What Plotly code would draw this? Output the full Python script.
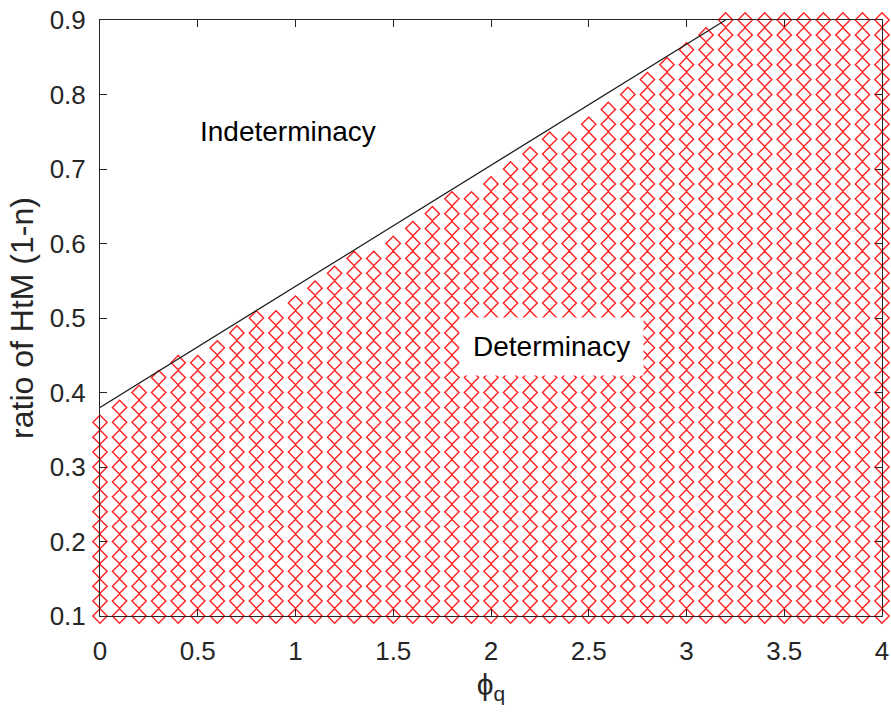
import plotly.graph_objects as go

# Column positions (phi_q) and the highest determinate grid value in each column
phi_q = [0.0, 0.1, 0.2, 0.3, 0.4, 0.5, 0.6, 0.7, 0.8, 0.9,
         1.0, 1.1, 1.2, 1.3, 1.4, 1.5, 1.6, 1.7, 1.8, 1.9,
         2.0, 2.1, 2.2, 2.3, 2.4, 2.5, 2.6, 2.7, 2.8, 2.9,
         3.0, 3.1, 3.2, 3.3, 3.4, 3.5, 3.6, 3.7, 3.8, 3.9, 4.0]
col_top = [0.36, 0.38, 0.40, 0.42, 0.44, 0.44, 0.46, 0.48, 0.50, 0.50,
           0.52, 0.54, 0.56, 0.58, 0.58, 0.60, 0.62, 0.64, 0.66, 0.66,
           0.68, 0.70, 0.72, 0.74, 0.74, 0.76, 0.78, 0.80, 0.82, 0.84,
           0.86, 0.88, 0.90, 0.90, 0.90, 0.90, 0.90, 0.90, 0.90, 0.90, 0.90]
# grid of HtM ratios tested
htm_levels = [0.10, 0.12, 0.14, 0.16, 0.18, 0.20, 0.22, 0.24, 0.26, 0.28,
              0.30, 0.32, 0.34, 0.36, 0.38, 0.40, 0.42, 0.44, 0.46, 0.48,
              0.50, 0.52, 0.54, 0.56, 0.58, 0.60, 0.62, 0.64, 0.66, 0.68,
              0.70, 0.72, 0.74, 0.76, 0.78, 0.80, 0.82, 0.84, 0.86, 0.88, 0.90]
# boundary line endpoints
bound_x = [0.0, 3.2]
bound_y = [0.38, 0.90]

x_ticks = [0, 0.5, 1, 1.5, 2, 2.5, 3, 3.5, 4]
x_tick_text = ["0", "0.5", "1", "1.5", "2", "2.5", "3", "3.5", "4"]
y_ticks = [0.1, 0.2, 0.3, 0.4, 0.5, 0.6, 0.7, 0.8, 0.9]
y_tick_text = ["0.1", "0.2", "0.3", "0.4", "0.5", "0.6", "0.7", "0.8", "0.9"]

px, py = [], []
for xv, top in zip(phi_q, col_top):
    for yv in htm_levels:
        if yv <= top + 1e-9:
            px.append(xv)
            py.append(yv)

FONT = "Liberation Sans, Arial, Helvetica, sans-serif"
AX = "#262626"

fig = go.Figure()
fig.add_trace(go.Scatter(
    x=px, y=py, mode="markers", cliponaxis=False,
    marker=dict(symbol="diamond-open", size=11, color="#ff2020",
                line=dict(width=1.4, color="#ff2020")),
    showlegend=False, hoverinfo="skip"))
fig.add_trace(go.Scatter(
    x=bound_x, y=bound_y, mode="lines",
    line=dict(color="#1a1a1a", width=1.2), showlegend=False))

axis_common = dict(showgrid=False, zeroline=False, showline=True,
                   linecolor=AX, linewidth=1, mirror="ticks",
                   ticks="inside", ticklen=7, tickwidth=1, tickcolor=AX,
                   automargin=False,
                   tickfont=dict(family=FONT, size=26, color=AX))

fig.update_layout(
    width=891, height=720,
    margin=dict(l=100, r=9, t=20, b=104),
    paper_bgcolor="white", plot_bgcolor="white",
    xaxis=dict(range=[0, 4], tickvals=x_ticks, ticktext=x_tick_text,
               title=dict(text="ϕ<sub>q</sub>", font=dict(family=FONT, size=30, color=AX),
                          standoff=8),
               ticklabelstandoff=12, **axis_common),
    yaxis=dict(range=[0.1, 0.9], tickvals=y_ticks, ticktext=y_tick_text,
               title=dict(text="ratio of HtM (1-n)", font=dict(family=FONT, size=32, color=AX),
                          standoff=6),
               ticklabelstandoff=8, **axis_common),
    annotations=[
        dict(x=0.5, y=0.75, xref="x", yref="y", text="Indeterminacy",
             xanchor="left", yanchor="middle", showarrow=False,
             font=dict(family=FONT, size=28, color="black")),
        dict(x=2.308, y=0.462, xref="x", yref="y", text="Determinacy",
             xanchor="center", yanchor="middle", showarrow=False,
             bgcolor="white", borderpad=13,
             font=dict(family=FONT, size=28, color="black")),
    ],
)

fig.write_html("out.html", config={"displayModeBar": False},
               post_script="document.body.style.margin='0';document.body.style.overflow='hidden';")
